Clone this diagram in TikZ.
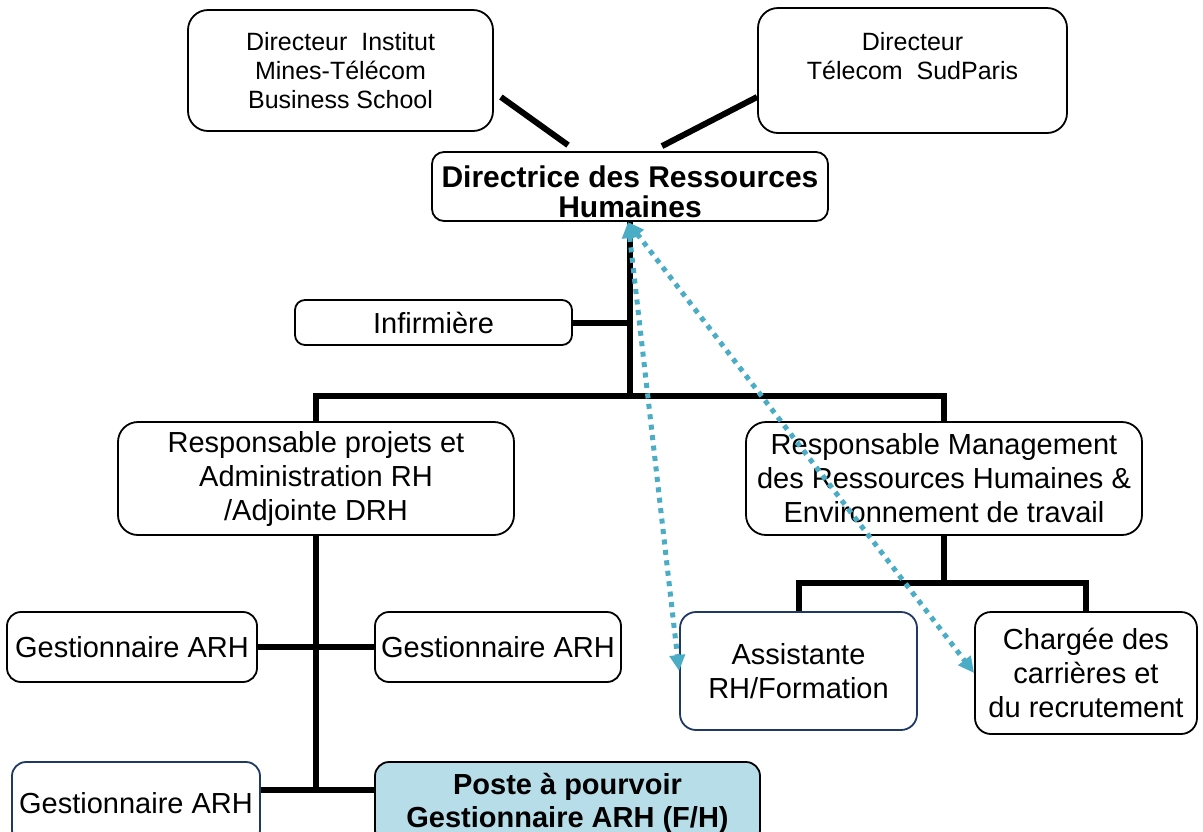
\documentclass[tikz,border=0pt]{standalone}
\usepackage{fontspec}
\setmainfont{Liberation Sans}
\usetikzlibrary{arrows.meta,calc}
\definecolor{linkteal}{HTML}{4BACC6}
\definecolor{frameblue}{HTML}{1F3864}
\definecolor{postefill}{HTML}{B7DEE8}

\begin{document}
\begin{tikzpicture}[x=1pt, y=-1pt, >={Triangle[length=16pt,width=15pt]},
  box/.style={draw, line width=1.8pt, rounded corners=16pt, fill=white, align=center,
    inner sep=0pt, font=\fontsize{29}{34}\selectfont},
  conn/.style={line width=6pt},
  link/.style={<->, linkteal, line width=5pt, dash pattern=on 5pt off 5.5pt}]
\useasboundingbox (0,0) rectangle (1203,831);

% direction
\node[box, minimum width=305pt, minimum height=121pt, rounded corners=20pt,
  font=\fontsize{25}{29}\selectfont] (dirimt) at (340.5,70.5)
  {Directeur\ \ Institut\\Mines-Télécom\\Business School};
\node[box, minimum width=309pt, minimum height=125pt, rounded corners=20pt,
  font=\fontsize{25}{29}\selectfont] (dirtsp) at (912.5,70.5)
  {Directeur\\Télecom\ \ SudParis\\~};
\node[box, minimum width=396pt, minimum height=69pt, rounded corners=12pt] (drh) at (630,186.5) {};
\node[font=\bfseries\fontsize{30}{30}\selectfont, align=center] (drhtext) at (630,192)
  {Directrice des Ressources\\Humaines};
\node[box, minimum width=277pt, minimum height=45pt, rounded corners=10pt] (inf) at (433.5,322.5) {Infirmière};

% responsables
\node[box, minimum width=396pt, minimum height=113pt, rounded corners=20pt] (resp1) at (316,478.5)
  {Responsable projets et\\Administration RH\\/Adjointe DRH};
\node[box, minimum width=396pt, minimum height=113pt, rounded corners=20pt] (resp2) at (944,478.5)
  {Responsable Management\\des Ressources Humaines \&\\Environnement de travail};

% gestionnaires
\node[box, minimum width=250pt, minimum height=70pt, rounded corners=14pt] (gest1) at (132,647) {Gestionnaire ARH};
\node[box, minimum width=246pt, minimum height=70pt, rounded corners=14pt] (gest2) at (498,647) {Gestionnaire ARH};
\node[box, draw=frameblue, minimum width=248pt, minimum height=82pt, rounded corners=14pt] (gest3) at (136,803) {Gestionnaire ARH};
\node[box, fill=postefill, minimum width=385pt, minimum height=82pt, rounded corners=14pt,
  font=\bfseries\fontsize{29}{33}\selectfont] (poste) at (567.5,803)
  {Poste à pourvoir\\Gestionnaire ARH (F/H)};

% right branch
\node[box, draw=frameblue, minimum width=237pt, minimum height=118pt] (assist) at (798.5,671) {Assistante\\RH/Formation};
\node[box, minimum width=222pt, minimum height=122pt] (charge) at (1086,673) {Chargée des\\carrières et\\du recrutement};

\coordinate (hub) at (630,396);
\coordinate (hubr) at (944,583);
\coordinate (hubl) at (316,790);
\coordinate (drhtip) at (628,222);

% hierarchy lines
\draw[conn] ([xshift=7pt,yshift=-26.5pt]dirimt.east) -- ([xshift=-62pt,yshift=6pt]drh.north);
\draw[conn] ([yshift=-26.5pt]dirtsp.west) -- ([xshift=32pt,yshift=5pt]drh.north);
\draw[conn] (drh.south) -- (hub);
\draw[conn] (inf.east) -- (inf.east -| hub);
\draw[conn] (resp1.north) |- (hub) -| (resp2.north);
\draw[conn] (resp2.south) -- (hubr);
\draw[conn] (assist.north) |- (hubr) -| (charge.north);
\draw[conn] (resp1.south) -- (hubl);
\draw[conn] (gest1.east) -- (gest2.west);
\draw[conn] (gest3.east |- hubl) -- (poste.west |- hubl);

% functional links
\draw[link] (drhtip) -- (assist.west);
\draw[link] (drhtip) -- (charge.west);
\end{tikzpicture}
\end{document}
